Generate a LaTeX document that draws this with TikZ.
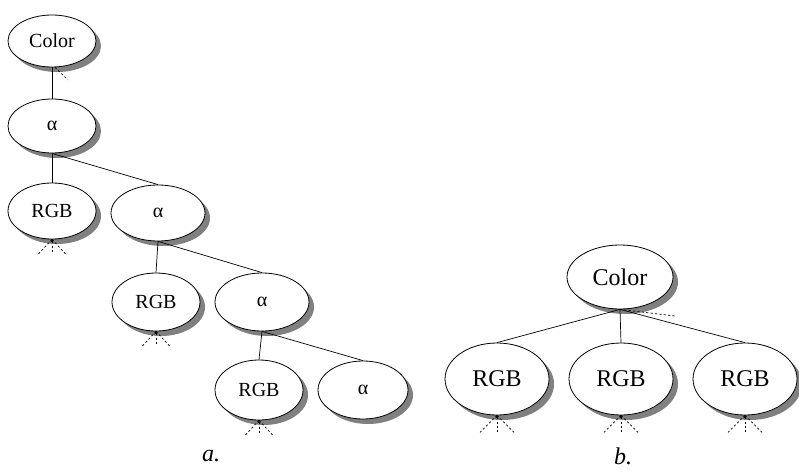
\documentclass[tikz,border=0pt]{standalone}
\usepackage{fontspec}
\setmainfont{Liberation Serif}
\usetikzlibrary{shapes.geometric,shadows,arrows.meta}
\begin{document}
\begin{tikzpicture}[x=1pt,y=-1pt,
  line width=0.8pt,
  tnode/.style={ellipse,draw,fill=white,inner sep=0pt,
    drop shadow={shadow xshift=5pt,shadow yshift=-5pt,fill=black!50,opacity=1}},
  small/.style={tnode,font=\fontsize{20}{23}\selectfont},
  large/.style={tnode,font=\fontsize{24}{28}\selectfont},
  edge/.style={draw,line width=0.7pt},
  hint/.style={draw,line width=0.7pt,dash pattern=on 2.2pt off 2.2pt},
  tip/.style={hint,{Stealth[length=3pt,width=3pt]}-},
  caption/.style={font=\fontsize{24}{28}\selectfont\itshape}]
\useasboundingbox (0,0) rectangle (799,473);

% ---- tree a ----
\node[small,minimum width=88,minimum height=52] (c1) at (52,41) {Color};
\node[small,minimum width=88,minimum height=54] (al1) at (52,126) {α};
\node[small,minimum width=88,minimum height=56] (rgb1) at (52,211) {RGB};
\node[small,minimum width=94,minimum height=56] (al2) at (158,213) {α};
\node[small,minimum width=88,minimum height=58] (rgb2) at (156,302) {RGB};
\node[small,minimum width=94,minimum height=58] (al3) at (262,302) {α};
\node[small,minimum width=88,minimum height=60] (rgb3) at (259,390) {RGB};
\node[small,minimum width=90,minimum height=58] (al4) at (363,390) {α};

\draw[edge] (c1.south) -- (al1.north);
\draw[edge] (al1.south) -- (rgb1.north);
\draw[edge] (al1.south) -- (al2.north);
\draw[edge] (al2.south) -- (rgb2.north);
\draw[edge] (al2.south) -- (al3.north);
\draw[edge] (al3.south) -- (rgb3.north);
\draw[edge] (al3.south) -- (al4.north);

% open continuation below Color
\coordinate (c1x) at (68,80);
\draw[hint] ([xshift=3pt]c1.south) -- (c1x);

% open fans below the RGB leaves of tree a
\foreach \n/\s in {rgb1/14, rgb2/14, rgb3/14}{
  \coordinate (\n l) at ([xshift=-\s pt,yshift=-15pt]\n.south);
  \coordinate (\n m) at ([yshift=-15pt]\n.south);
  \coordinate (\n r) at ([xshift=\s pt,yshift=-15pt]\n.south);
  \draw[hint] (\n.south) -- (\n l);
  \draw[tip] (\n.south) -- (\n m);
  \draw[hint] (\n.south) -- (\n r);
}

\node[caption] (capa) at (211,456) {a.};

% ---- tree b ----
\node[large,minimum width=106,minimum height=64] (cb) at (620,277) {Color};
\node[large,minimum width=104,minimum height=72] (rb1) at (497,379) {RGB};
\node[large,minimum width=104,minimum height=72] (rb2) at (621,379) {RGB};
\node[large,minimum width=104,minimum height=72] (rb3) at (745,379) {RGB};

\draw[edge] (cb.south) -- (rb1.north);
\draw[edge] (cb.south) -- (rb2.north);
\draw[edge] (cb.south) -- (rb3.north);

\coordinate (cbx) at (675,316);
\draw[hint] (cb.south) -- (cbx);

\foreach \n in {rb1, rb2, rb3}{
  \coordinate (\n l) at ([xshift=-17pt,yshift=-17pt]\n.south);
  \coordinate (\n m) at ([yshift=-17pt]\n.south);
  \coordinate (\n r) at ([xshift=17pt,yshift=-17pt]\n.south);
  \draw[hint] (\n.south) -- (\n l);
  \draw[tip] (\n.south) -- (\n m);
  \draw[hint] (\n.south) -- (\n r);
}

\node[caption] (capb) at (623,456) {b.};
\end{tikzpicture}
\end{document}
